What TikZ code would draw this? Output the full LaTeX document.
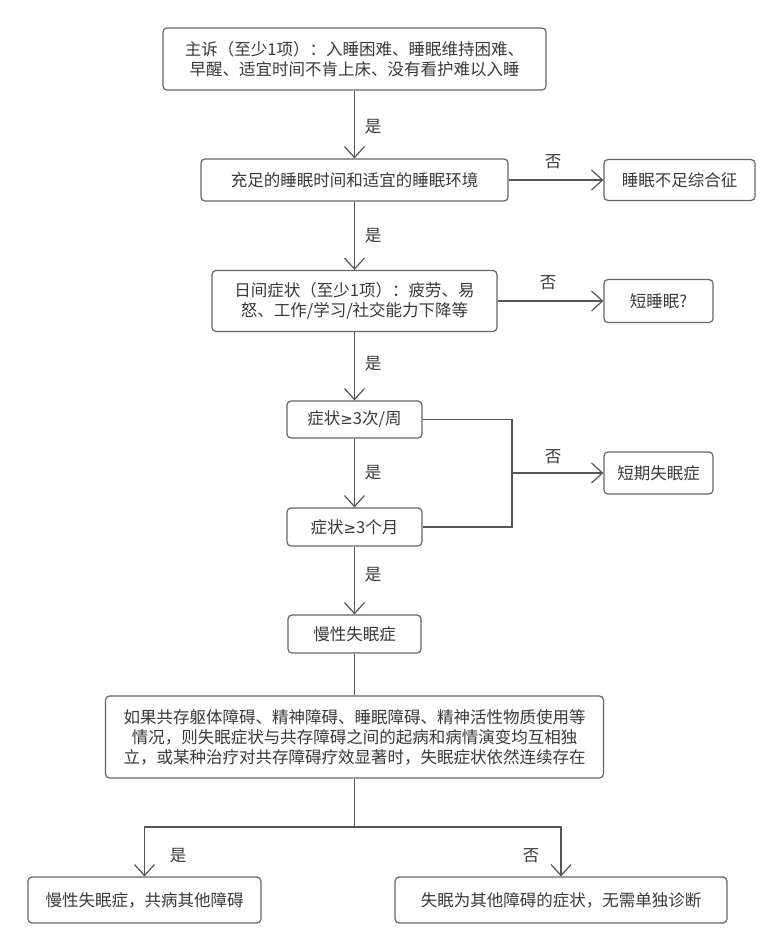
\documentclass[tikz,border=0pt]{standalone}
\usepackage{fontspec}
\setmainfont{Noto Sans CJK SC}
\newfontfamily\symfnt{DejaVu Sans}
\usetikzlibrary{arrows.meta}
\definecolor{boxline}{HTML}{666666}
\definecolor{conn}{HTML}{555555}
\definecolor{txt}{HTML}{3A3A3A}
\newcommand{\mygeq}{{\symfnt\fontsize{15}{20}\selectfont ≥}}
\tikzset{
  stepbox/.style={draw=boxline, line width=1.2pt, rounded corners=4pt, align=center,
    inner sep=0pt, text=txt, font=\fontsize{16.5}{20}\selectfont},
  conline/.style={draw=conn, line width=1.2pt},
  arr/.style={conline, -{Straight Barb[length=11pt,width=20pt,line width=1.2pt]}},
  lbl/.style={text=txt, font=\fontsize{16.5}{20}\selectfont, inner sep=0pt},
}
\begin{document}
\begin{tikzpicture}[x=1pt,y=-1pt]
\useasboundingbox (0,0) rectangle (784,951);
\fill[white] (0,0) rectangle (784,951);

\node[stepbox, minimum width=383pt, minimum height=62pt] (n1) at (354.5,59)
  {主诉（至少1项）：入睡困难、睡眠维持困难、\\早醒、适宜时间不肯上床、没有看护难以入睡};
\node[stepbox, minimum width=307pt, minimum height=42pt] (n2) at (354.5,180)
  {充足的睡眠时间和适宜的睡眠环境};
\node[stepbox, minimum width=151pt, minimum height=41pt] (n2r) at (679.5,180)
  {睡眠不足综合征};
\node[stepbox, minimum width=285pt, minimum height=61pt] (n3) at (354.5,301)
  {日间症状（至少1项）：疲劳、易\\怒、工作/学习/社交能力下降等};
\node[stepbox, minimum width=109pt, minimum height=43pt] (n3r) at (658.5,301)
  {短睡眠?};
\node[stepbox, minimum width=135pt, minimum height=37pt] (n4) at (354.5,419.5)
  {症状\mygeq 3次/周};
\node[stepbox, minimum width=135pt, minimum height=38pt] (n5) at (354.5,527)
  {症状\mygeq 3个月};
\node[stepbox, minimum width=109pt, minimum height=42pt] (n45r) at (658.5,473)
  {短期失眠症};
\node[stepbox, minimum width=133pt, minimum height=38pt] (n6) at (354.5,634)
  {慢性失眠症};
\node[stepbox, minimum width=498pt, minimum height=82pt] (n7) at (354.5,737)
  {如果共存躯体障碍、精神障碍、睡眠障碍、精神活性物质使用等\\情况，则失眠症状与共存障碍之间的起病和病情演变均互相独\\立，或某种治疗对共存障碍疗效显著时，失眠症状依然连续存在};
\node[stepbox, minimum width=233pt, minimum height=46pt] (n8) at (144.5,900)
  {慢性失眠症，共病其他障碍};
\node[stepbox, minimum width=332pt, minimum height=46pt] (n9) at (561,900)
  {失眠为其他障碍的症状，无需单独诊断};

\coordinate (jx) at (512,473);
\coordinate (jb) at (354.5,827);

\draw[arr] (n1) -- (n2);
\draw[arr] (n2) -- (n2r);
\draw[arr] (n2) -- (n3);
\draw[arr] (n3) -- (n3r);
\draw[arr] (n3) -- (n4);
\draw[arr] (n4) -- (n5);
\draw[conline] (n4.east) -| (jx) |- (n5.east);
\draw[arr] (jx) -- (n45r);
\draw[arr] (n5) -- (n6);
\draw[conline] (n6) -- (n7);
\draw[conline] (n7.south) -- (jb);
\draw[arr] (jb) -| (n8.north);
\draw[arr] (jb) -| (n9.north);

\node[lbl] (l1) at (373,127) {是};
\node[lbl] (l2) at (373,236) {是};
\node[lbl] (l3) at (373,364) {是};
\node[lbl] (l4) at (373,473) {是};
\node[lbl] (l5) at (373,575) {是};
\node[lbl] (f1) at (553,162) {否};
\node[lbl] (f2) at (548,283) {否};
\node[lbl] (f3) at (553,457) {否};
\node[lbl] (l6) at (178,856) {是};
\node[lbl] (f4) at (531,856) {否};
\end{tikzpicture}
\end{document}
